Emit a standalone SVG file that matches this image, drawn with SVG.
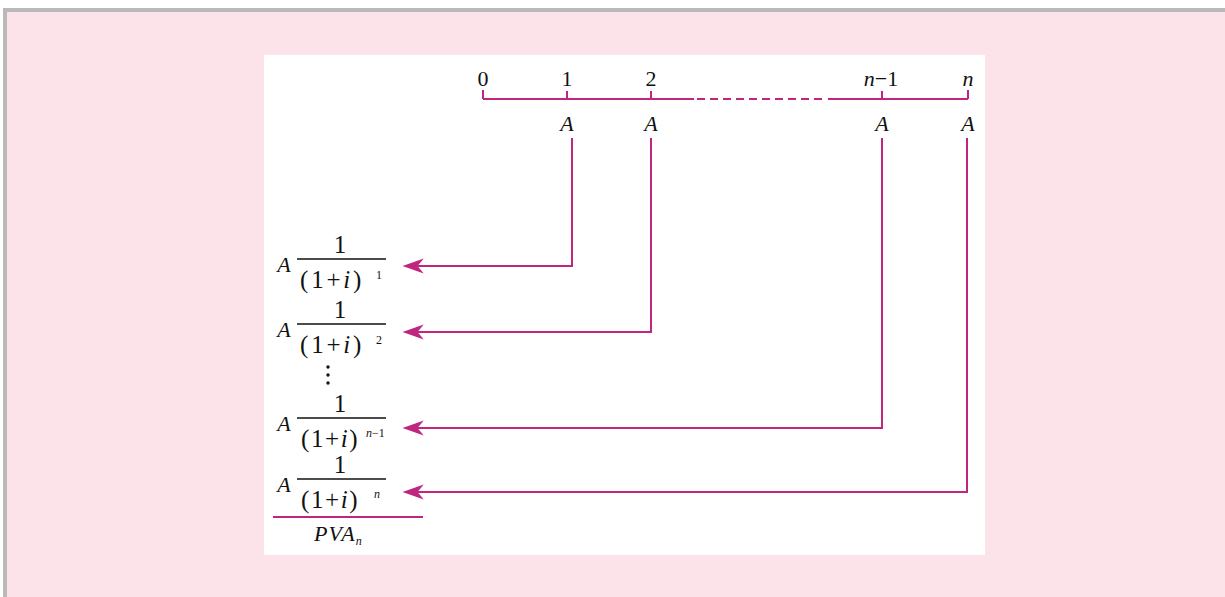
<svg xmlns="http://www.w3.org/2000/svg" width="1225" height="597" viewBox="0 0 1225 597">
<style>
.t{font-family:"Liberation Serif","Times New Roman",serif;fill:#111;}
.i{font-style:italic;}
.ln{fill:none;stroke:#c0267f;stroke-width:2;}
.tl{font-size:22px;text-anchor:middle;}
.num{font-size:25px;text-anchor:middle;}
.den{font-size:25px;letter-spacing:1.6px;}
.den.w{letter-spacing:2.8px;}
.av{font-size:22px;text-anchor:middle;font-style:italic;}
.sup{font-size:12px;}
.bar{stroke:#111;stroke-width:1.3;}
</style>
<defs>
<marker id="ah" markerUnits="userSpaceOnUse" markerWidth="30" markerHeight="20" viewBox="-15 -8 24 16" refX="0" refY="0" orient="auto" overflow="visible">
<path d="M6,0 L-11,-6 L-6,0 L-11,6 Z" fill="#c0267f"/>
</marker>
</defs>
<rect x="0" y="0" width="1225" height="597" fill="#ffffff"/>
<rect x="5" y="10" width="1240" height="600" fill="#fce3e9" stroke="#b9b9b9" stroke-width="4"/>
<rect x="264" y="55" width="721" height="500" fill="#ffffff"/>

<g id="timeline">
<path class="ln" d="M483 99 H694 M828 99 H968"/>
<path class="ln" d="M697 99 H826" stroke-dasharray="8 5"/>
<path class="ln" d="M483 90 V99 M567 91 V99 M651 91 V99 M882 91 V99 M968 90 V99"/>
<text class="t tl" x="483" y="86">0</text>
<text class="t tl" x="567" y="86">1</text>
<text class="t tl" x="651" y="86">2</text>
<text class="t tl" x="881" y="86"><tspan class="i">n</tspan>−1</text>
<text class="t tl i" x="968" y="86">n</text>
<text class="t av" x="567" y="131">A</text>
<text class="t av" x="651" y="131">A</text>
<text class="t av" x="882" y="131">A</text>
<text class="t av" x="968" y="131">A</text>
</g>

<g id="connectors">
<path class="ln" d="M572 138 V266 H410" marker-end="url(#ah)"/>
<path class="ln" d="M651 138 V332 H410" marker-end="url(#ah)"/>
<path class="ln" d="M882 138 V428 H410" marker-end="url(#ah)"/>
<path class="ln" d="M967 138 V492 H410" marker-end="url(#ah)"/>
</g>

<g id="term1">
<text class="t av" x="284" y="272">A</text>
<text class="t num" x="340" y="253">1</text>
<line class="bar" x1="297" y1="259" x2="386" y2="259"/>
<text class="t den w" x="300" y="288">(1+<tspan class="i">i</tspan>)</text>
<text class="t sup" x="376" y="279">1</text>
</g>

<g id="term2">
<text class="t av" x="284" y="337">A</text>
<text class="t num" x="340" y="318">1</text>
<line class="bar" x1="297" y1="324" x2="386" y2="324"/>
<text class="t den w" x="300" y="353">(1+<tspan class="i">i</tspan>)</text>
<text class="t sup" x="376" y="344">2</text>
</g>

<g id="dots">
<circle cx="328" cy="367" r="1.7" fill="#111"/>
<circle cx="328" cy="375" r="1.7" fill="#111"/>
<circle cx="328" cy="383" r="1.7" fill="#111"/>
</g>

<g id="termn1">
<text class="t av" x="284" y="431">A</text>
<text class="t num" x="340" y="412">1</text>
<line class="bar" x1="297" y1="418" x2="386" y2="418"/>
<text class="t den" x="301" y="447">(1+<tspan class="i">i</tspan>)</text>
<text class="t sup" x="366" y="437"><tspan class="i">n</tspan>−1</text>
</g>

<g id="termn">
<text class="t av" x="284" y="492">A</text>
<text class="t num" x="340" y="473">1</text>
<line class="bar" x1="297" y1="479" x2="386" y2="479"/>
<text class="t den" x="301" y="508">(1+<tspan class="i">i</tspan>)</text>
<text class="t sup i" x="374" y="498">n</text>
</g>

<g id="sum">
<line class="ln" x1="273" y1="517" x2="423" y2="517"/>
<text class="t i" x="314" y="541" font-size="22" letter-spacing="1">PVA<tspan font-size="12" dy="4">n</tspan></text>
</g>
</svg>
